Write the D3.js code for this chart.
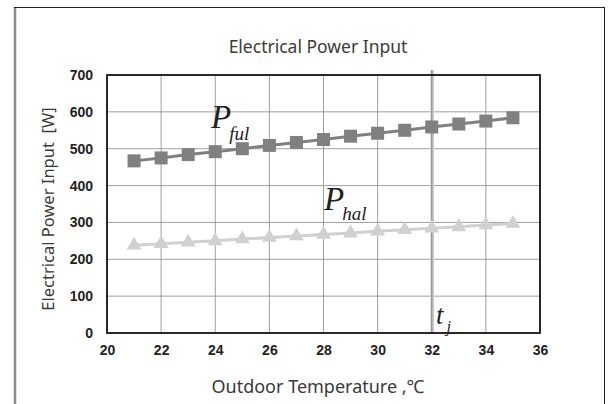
<!DOCTYPE html>
<html>
<head>
<meta charset="utf-8">
<script src="https://cdn.jsdelivr.net/npm/d3@7"></script>
<style>
  body { margin: 0; background: #fff; }
  svg { display: block; }
</style>
</head>
<body>
<div id="chart"></div>
<script>
// data
const temps = [21, 22, 23, 24, 25, 26, 27, 28, 29, 30, 31, 32, 33, 34, 35];
const pFul = [467, 475, 484, 492, 500, 509, 517, 525, 534, 542, 550, 559, 567, 575, 584];
const pHal = [238, 242, 246, 250, 255, 259, 263, 267, 271, 276, 280, 284, 288, 293, 297];
const xTicks = [20, 22, 24, 26, 28, 30, 32, 34, 36];
const yTicks = [0, 100, 200, 300, 400, 500, 600, 700];
const tj = 32;

const W = 609, H = 404;
const m = { left: 107, right: 540, top: 75, bottom: 333 };

const svg = d3.select("#chart").append("svg")
  .attr("width", W).attr("height", H);

// outer frame
svg.append("line").attr("x1", 15).attr("x2", 15).attr("y1", 7).attr("y2", H)
  .attr("stroke", "#888").attr("stroke-width", 2.5);
svg.append("line").attr("x1", 14).attr("x2", 604.5).attr("y1", 7.5).attr("y2", 7.5)
  .attr("stroke", "#222").attr("stroke-width", 1.2);
svg.append("line").attr("x1", 604.5).attr("x2", 604.5).attr("y1", 7).attr("y2", H)
  .attr("stroke", "#222").attr("stroke-width", 1);

const x = d3.scaleLinear().domain([20, 36]).range([m.left, m.right]);
const y = d3.scaleLinear().domain([0, 700]).range([m.bottom, m.top]);

// grid
svg.append("g").selectAll("line").data(xTicks.slice(1, -1)).join("line")
  .attr("x1", d => x(d)).attr("x2", d => x(d))
  .attr("y1", m.top).attr("y2", m.bottom)
  .attr("stroke", "#888").attr("stroke-width", 0.8);
svg.append("g").selectAll("line").data(yTicks.slice(1, -1)).join("line")
  .attr("x1", m.left).attr("x2", m.right)
  .attr("y1", d => y(d)).attr("y2", d => y(d))
  .attr("stroke", "#888").attr("stroke-width", 0.8);

// tj line
svg.append("line").attr("x1", x(tj) + 0.5).attr("x2", x(tj) + 0.5)
  .attr("y1", m.top - 5).attr("y2", m.bottom)
  .attr("stroke", "#c8c8c8").attr("stroke-width", 3.5);
svg.append("line").attr("x1", x(tj)).attr("x2", x(tj))
  .attr("y1", m.top - 5).attr("y2", m.bottom)
  .attr("stroke", "#777").attr("stroke-width", 0.8);

// plot frame
svg.append("rect").attr("x", m.left).attr("y", m.top)
  .attr("width", m.right - m.left).attr("height", m.bottom - m.top)
  .attr("fill", "none").attr("stroke", "#111").attr("stroke-width", 1.8);

// axes
const xAxis = svg.append("g").attr("transform", `translate(0,${m.bottom})`)
  .call(d3.axisBottom(x).tickValues(xTicks).tickSize(0).tickPadding(12));
const yAxis = svg.append("g").attr("transform", `translate(${m.left},0)`)
  .call(d3.axisLeft(y).tickValues(yTicks).tickSize(0).tickPadding(14));
[xAxis, yAxis].forEach(a => {
  a.select(".domain").remove();
  a.selectAll("text").attr("font-family", "Liberation Sans, Arial, sans-serif")
    .attr("font-size", 14).attr("font-weight", "bold").attr("fill", "#222");
});

// series
const line = d3.line().x((d, i) => x(temps[i])).y(d => y(d));

svg.append("path").datum(pHal).attr("d", line)
  .attr("fill", "none").attr("stroke", "#d0d0d0").attr("stroke-width", 3);
svg.append("g").selectAll("path").data(pHal).join("path")
  .attr("d", d3.symbol(d3.symbolTriangle, 95))
  .attr("transform", (d, i) => `translate(${x(temps[i])},${y(d)})`)
  .attr("fill", "#d0d0d0");

svg.append("path").datum(pFul).attr("d", line)
  .attr("fill", "none").attr("stroke", "#808080").attr("stroke-width", 3);
svg.append("g").selectAll("rect").data(pFul).join("rect")
  .attr("x", (d, i) => x(temps[i]) - 6.5).attr("y", d => y(d) - 6.5)
  .attr("width", 13).attr("height", 13)
  .attr("fill", "#808080");

// labels
const serif = "Liberation Serif, Times New Roman, serif";
function subLabel(px, py, main, sub, size, subSize, dx, dy) {
  const t = svg.append("text").attr("x", px).attr("y", py)
    .attr("font-family", serif).attr("font-style", "italic").attr("fill", "#222");
  t.append("tspan").attr("font-size", size).text(main);
  t.append("tspan").attr("font-size", subSize).attr("dx", dx).attr("dy", dy).text(sub);
}
subLabel(211, 128, "P", "ful", 33, 19, -2, 12);
subLabel(324, 210, "P", "hal", 33, 19, -2, 10);
subLabel(436, 324, "t", "j", 27, 16, 3, 8);

const sans = "Noto Sans, Open Sans, sans-serif";
svg.append("text").attr("x", 318).attr("y", 53).attr("text-anchor", "middle")
  .attr("font-family", sans).attr("font-size", 17.5).attr("fill", "#3a3a3a")
  .text("Electrical Power Input");
svg.append("text").attr("x", 318).attr("y", 393).attr("text-anchor", "middle")
  .attr("font-family", sans).attr("font-size", 18).attr("fill", "#3a3a3a")
  .text("Outdoor Temperature ,℃");
svg.append("text").attr("transform", "translate(54,209) rotate(-90)")
  .attr("text-anchor", "middle")
  .attr("font-family", sans).attr("font-size", 16.5).attr("fill", "#3a3a3a")
  .attr("xml:space", "preserve")
  .text("Electrical Power Input  [W]");
</script>
</body>
</html>
